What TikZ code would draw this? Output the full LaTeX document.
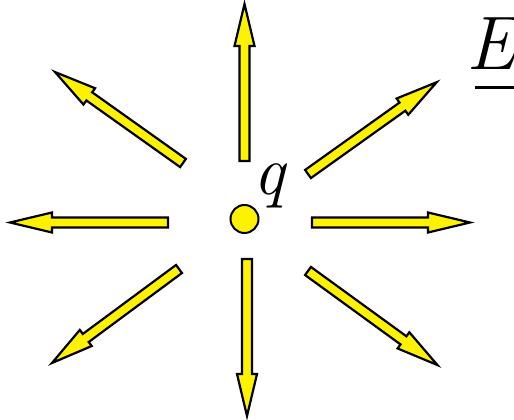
\documentclass[tikz,border=0pt]{standalone}
\begin{document}
\begin{tikzpicture}[x=1pt,y=1pt,
  arrbody/.style={draw=black, fill=yellow, line width=2.2pt, line join=miter},
  charge/.style={circle, draw=black, fill=yellow, line width=2pt, minimum size=28pt, inner sep=0pt},
  lbl/.style={inner sep=0pt, font=\fontsize{70}{70}\selectfont\itshape},
  lblE/.style={inner sep=0pt, font=\fontsize{76}{76}\selectfont\itshape}]
\useasboundingbox (0,0) rectangle (514,420);
% block arrow: tail point, angle, length
\newcommand{\blockarr}[4]{%
  \coordinate (#1) at (#2);
  \draw[arrbody, shift={(#1)}, rotate=#3]
    (0,-5) -- (#4-42,-5) -- (#4-42,-10) -- (#4,0) -- (#4-42,10) -- (#4-42,5) -- (0,5) -- cycle;}
\blockarr{aup}{244.5,259}{90}{157}
\blockarr{adown}{247,161}{270}{157}
\blockarr{aright}{312,197.5}{0}{158}
\blockarr{aleft}{168,197.5}{180}{158}
\blockarr{aul}{183,257}{144.6}{157}
\blockarr{aur}{308,246}{35.5}{158}
\blockarr{all}{179,151}{216.5}{158}
\blockarr{alr}{308,149}{-36}{160}
\node[charge] (q0) at (244.5,201) {};
\node[lbl, anchor=base west] (qlab) at (253,225) {q};
\node[lblE, anchor=base west] (E) at (466,350) {E};
\draw[line width=3pt] ([xshift=9pt,yshift=-18pt]E.base west) -- ++(60,0);
\end{tikzpicture}
\end{document}
